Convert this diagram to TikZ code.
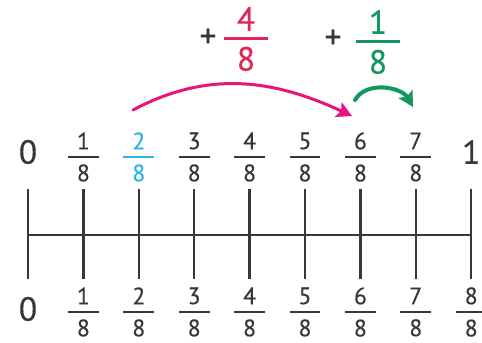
\documentclass[tikz,border=0pt]{standalone}
\usepackage{fontspec}
\setmainfont{PT Sans}[FakeBold=0.5]
\usetikzlibrary{arrows.meta,positioning}
\definecolor{ink}{RGB}{55,55,55}
\definecolor{sky}{RGB}{45,180,230}
\definecolor{berry}{RGB}{222,40,85}
\definecolor{rose}{RGB}{230,20,125}
\definecolor{mint}{RGB}{20,150,95}
\newcommand{\fr}[2]{\shortstack{#1\\[0.6pt]\rule{1.3em}{0.1em}\\[0.6pt]#2}}
\tikzset{
  num/.style={font=\fontsize{19}{21}\selectfont,text=ink,inner sep=0pt},
  frac/.style={font=\fontsize{13.5}{15}\selectfont,text=#1,inner sep=0pt},
  frac/.default=ink,
  big frac/.style={font=\fontsize{19}{21}\selectfont,text=#1,inner sep=0pt},
  big frac/.default=ink,
  tickline/.style={draw=ink,line width=1.4pt},
  hop/.style={-{Stealth[length=3mm,width=3.2mm,inset=0.6mm]},line width=#1,line cap=round},
  hop/.default=1.7pt,
}
\begin{document}
\begin{tikzpicture}
  \useasboundingbox (0,0) rectangle (9.64,6.84);
  % number line
  \draw[tickline] (0.56,2.14) -- (9.424,2.14);
  \foreach \i in {0,...,8}{
    \coordinate (t\i) at (0.56+1.108*\i,3.06);
    \coordinate (b\i) at (0.56+1.108*\i,1.26);
    \draw[tickline] (t\i) -- (b\i);
  }
  % upper labels
  \node[num] (up0) at (0.56,3.8) {0};
  \foreach \i in {1,3,4,5,6,7}
    \node[frac] (up\i) at (0.56+1.108*\i,3.7) {\fr{\i}{8}};
  \node[frac=sky] (up2) at (2.776,3.7) {\fr{2}{8}};
  \node[num] (up8) at (9.424,3.8) {1};
  % lower labels
  \node[num] (lo0) at (0.56,0.66) {0};
  \foreach \i in {1,...,8}
    \node[frac] (lo\i) at (0.56+1.108*\i,0.6) {\fr{\i}{8}};
  % jumps
  \node[num] (plusA) at (4.16,6.08) {+};
  \node[big frac=berry] (four) at (4.92,6.06) {\fr{4}{8}};
  \node[num] (plusB) at (6.66,6.06) {+};
  \node[big frac=mint] (one) at (7.56,6.0) {\fr{1}{8}};
  \coordinate (jumpA) at (2.66,4.64);
  \coordinate (landA) at (7.04,4.52);
  \coordinate (jumpB) at (7.1,4.84);
  \coordinate (landB) at (8.26,4.7);
  \draw[hop,rose] (jumpA) to[out=28,in=155] (landA);
  \draw[hop=2.3pt,mint] (jumpB) to[out=60,in=120] (landB);
\end{tikzpicture}
\end{document}
